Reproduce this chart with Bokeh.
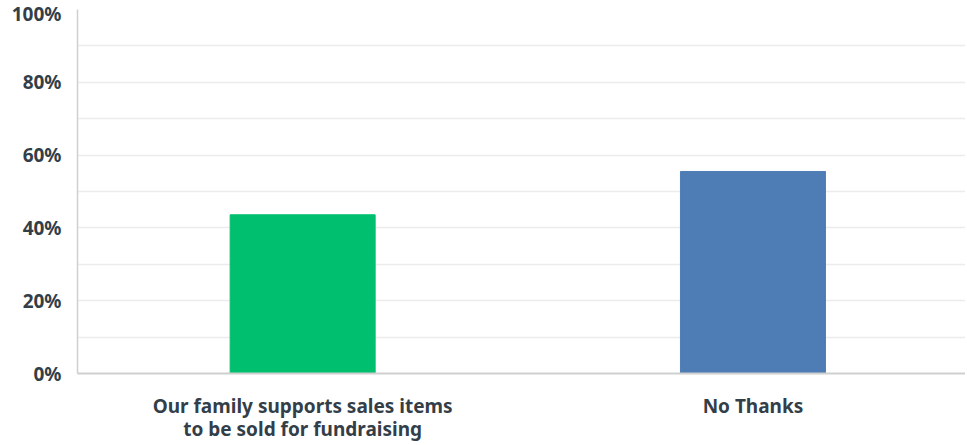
from bokeh.plotting import figure
from bokeh.models import Range1d, FixedTicker, ColumnDataSource
from bokeh.embed import file_html
from bokeh.resources import INLINE

categories = ["Our family supports sales items\nto be sold for fundraising", "No Thanks"]
values = [43.6, 55.5]
colors = ["#00bf6f", "#4e7db5"]
positions = [0.5, 1.5]
y_ticks = [0, 20, 40, 60, 80, 100]
y_grid = [0, 10, 20, 30, 40, 50, 60, 70, 80, 90, 100]

src = ColumnDataSource(dict(x=positions, top=values, color=colors))

p = figure(width=965, height=444, output_backend="svg", toolbar_location=None,
           x_range=Range1d(0, 1.972), y_range=Range1d(0, 100),
           min_border_left=77, min_border_right=0, min_border_top=9, min_border_bottom=60)
p.vbar(x="x", top="top", bottom=0, width=0.322, color="color", source=src)

p.outline_line_color = None
p.xgrid.grid_line_color = None
p.ygrid.ticker = FixedTicker(ticks=y_grid)
p.ygrid.grid_line_color = "#ececec"
p.ygrid.grid_line_width = 1.5

p.yaxis.ticker = FixedTicker(ticks=y_ticks)
p.yaxis.major_label_overrides = {t: f"{t}%" for t in y_ticks}
p.yaxis.axis_line_color = "#d0d0d0"
p.yaxis.axis_line_width = 1.5
p.yaxis.major_tick_line_color = None
p.yaxis.minor_tick_line_color = None
p.yaxis.major_label_text_font = "Noto Sans"
p.yaxis.major_label_text_font_size = "19px"
p.yaxis.major_label_text_font_style = "bold"
p.yaxis.major_label_text_color = "#333e48"
p.yaxis.major_label_text_baseline = "top"
p.yaxis.major_label_standoff = 10

p.xaxis.ticker = FixedTicker(ticks=positions)
p.xaxis.major_label_overrides = {pos: c for pos, c in zip(positions, categories)}
p.xaxis.axis_line_color = "#cfcfcf"
p.xaxis.axis_line_width = 2
p.xaxis.major_tick_line_color = None
p.xaxis.minor_tick_line_color = None
p.xaxis.major_label_text_font = "Noto Sans"
p.xaxis.major_label_text_font_size = "19px"
p.xaxis.major_label_text_font_style = "bold"
p.xaxis.major_label_text_color = "#333e48"
p.xaxis.major_label_text_line_height = 0.9
p.xaxis.major_label_standoff = 13

open("out.html", "w").write(file_html(p, INLINE))
